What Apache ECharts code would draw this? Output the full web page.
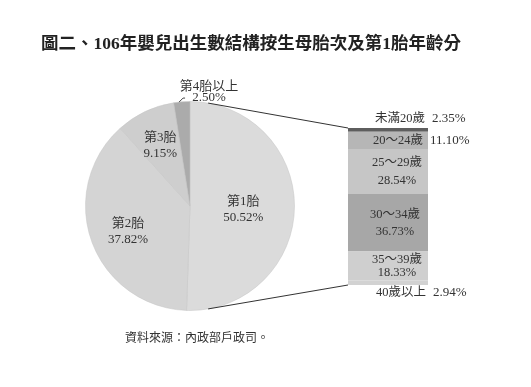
<!DOCTYPE html>
<html><head><meta charset="utf-8">
<script src="https://cdn.jsdelivr.net/npm/echarts@6/dist/echarts.min.js"></script>
<style>html,body{margin:0;padding:0;background:#fff}#c{width:531px;height:387px}</style>
</head><body><div id="c"></div>
<script>
// ---- data ----
var titleText = '圖二、106年嬰兒出生數結構按生母胎次及第1胎年齡分';
var sourceText = '資料來源：內政部戶政司。';
var parityNames = ['第1胎', '第2胎', '第3胎', '第4胎以上'];
var parityPcts = [50.52, 37.82, 9.15, 2.50];
var ageNames = ['未滿20歲', '20～24歲', '25～29歲', '30～34歲', '35～39歲', '40歲以上'];
var agePcts = [2.35, 11.10, 28.54, 36.73, 18.33, 2.94];

// ---- style ----
var FONT = '"Liberation Serif","Noto Sans CJK TC",serif';
var pieColors = ['#dbdbdb', '#d4d4d4', '#cecece', '#ababab'];
var barColors = ['#5e5e5e', '#b6b6b6', '#c6c6c6', '#a7a7a7', '#cfcfcf', '#d2d2d2'];
var PIE_C = [190, 206], PIE_R = 104.5, BAR_W = 80;
var pieLabelShift = [[-1, 1.5], [-5, 3.5], [-3, -5.5], null];
var barLabelPos = [
  {pos: [27, -9], mode: 'line'},
  {pos: [25, '50%'], mode: 'line'},
  {pos: [49, '50%'], mode: 'two', lh: 18},
  {pos: [47, '50%'], mode: 'two', lh: 17},
  {pos: [49, '50%'], mode: 'two', lh: 13},
  {pos: [28, 12], mode: 'line'}
];

var total = agePcts.reduce(function (a, b) { return a + b; }, 0);
function fmt(v) { return v.toFixed(2) + '%'; }

var barSeries = ageNames.map(function (nm, i) {
  var lp = barLabelPos[i];
  var label = {
    show: true, position: lp.pos, fontFamily: FONT, fontSize: 12.5, color: '#333',
    verticalAlign: 'middle'
  };
  if (lp.mode === 'line') {
    label.align = 'left';
    label.formatter = '{n|' + nm + '}{p|' + fmt(agePcts[i]) + '}';
    label.rich = {
      n: {fontFamily: FONT, fontSize: 12.5, color: '#333'},
      p: {fontFamily: FONT, fontSize: 13, color: '#333', padding: [0, 0, 0, 7]}
    };
  } else {
    label.align = 'center';
    label.lineHeight = lp.lh;
    label.formatter = nm + '\n' + fmt(agePcts[i]);
  }
  return {
    type: 'bar', name: nm, stack: 'age', barWidth: BAR_W,
    data: [agePcts[i]], itemStyle: {color: barColors[i]}, label: label,
    silent: true, animation: false
  };
});

var chart = echarts.init(document.getElementById('c'), null, {renderer: 'canvas'});
var option = {
  backgroundColor: '#fff',
  animation: false,
  title: [
    {text: titleText, left: 36, top: 31,
     textStyle: {fontFamily: FONT, fontSize: 17.5, fontWeight: 'bold', color: '#222'}},
    {text: sourceText, left: 120, top: 328,
     textStyle: {fontFamily: FONT, fontSize: 12, fontWeight: 'normal', color: '#333'}}
  ],
  grid: {left: 348, top: 128, width: BAR_W, height: 157},
  xAxis: {type: 'category', data: ['第1胎'], show: false},
  yAxis: {type: 'value', min: 0, max: total, inverse: true, show: false},
  series: [{
    type: 'pie', center: PIE_C, radius: [0, PIE_R], startAngle: 90, clockwise: true,
    silent: true, animation: false,
    itemStyle: {borderColor: '#c4c4c4', borderWidth: 0.5},
    label: {show: true, position: 'inside', fontFamily: FONT, fontSize: 13, color: '#333',
            lineHeight: 16, formatter: function (p) { return p.name + '\n' + fmt(p.value); }},
    labelLine: {show: false},
    labelLayout: function (p) {
      var s = pieLabelShift[p.dataIndex];
      if (s) return {dx: s[0], dy: s[1]};
      return {x: PIE_C[0] + 19, y: PIE_C[1] - 114, align: 'center', verticalAlign: 'middle'};
    },
    data: parityNames.map(function (n, i) {
      var d = {name: n, value: parityPcts[i], itemStyle: {color: pieColors[i]}};
      if (i === 3) d.label = {lineHeight: 11};
      return d;
    })
  }].concat(barSeries)
};
chart.setOption(option);

// connecting lines from pie to bar
var ptTop = chart.convertToPixel({xAxisIndex: 0, yAxisIndex: 0}, [0, total]);
var ptBot = chart.convertToPixel({xAxisIndex: 0, yAxisIndex: 0}, [0, 0]);
var bx = ptTop[0] - BAR_W / 2;
var yT = Math.min(ptTop[1], ptBot[1]), yB = Math.max(ptTop[1], ptBot[1]);
var ang = 10 * Math.PI / 180;
var p1 = [PIE_C[0] + PIE_R * Math.sin(ang), PIE_C[1] - PIE_R * Math.cos(ang)];
var p2 = [PIE_C[0] + PIE_R * Math.sin(ang), PIE_C[1] + PIE_R * Math.cos(ang)];
// small leader for the 4th slice label
var la = -6 * Math.PI / 180;
var q0 = [PIE_C[0] + PIE_R * Math.sin(la), PIE_C[1] - PIE_R * Math.cos(la)];
chart.setOption({graphic: [
  {type: 'line', shape: {x1: p1[0], y1: p1[1], x2: bx, y2: yT}, style: {stroke: '#333', lineWidth: 1}, z: 10},
  {type: 'line', shape: {x1: p2[0], y1: p2[1], x2: bx, y2: yB}, style: {stroke: '#333', lineWidth: 1}, z: 10},
  {type: 'polyline', shape: {points: [q0, [q0[0] + 4, q0[1] - 4], [q0[0] + 6, q0[1] - 4]]},
   style: {stroke: '#444', lineWidth: 1, fill: null}, z: 10}
]});
</script>
</body></html>
